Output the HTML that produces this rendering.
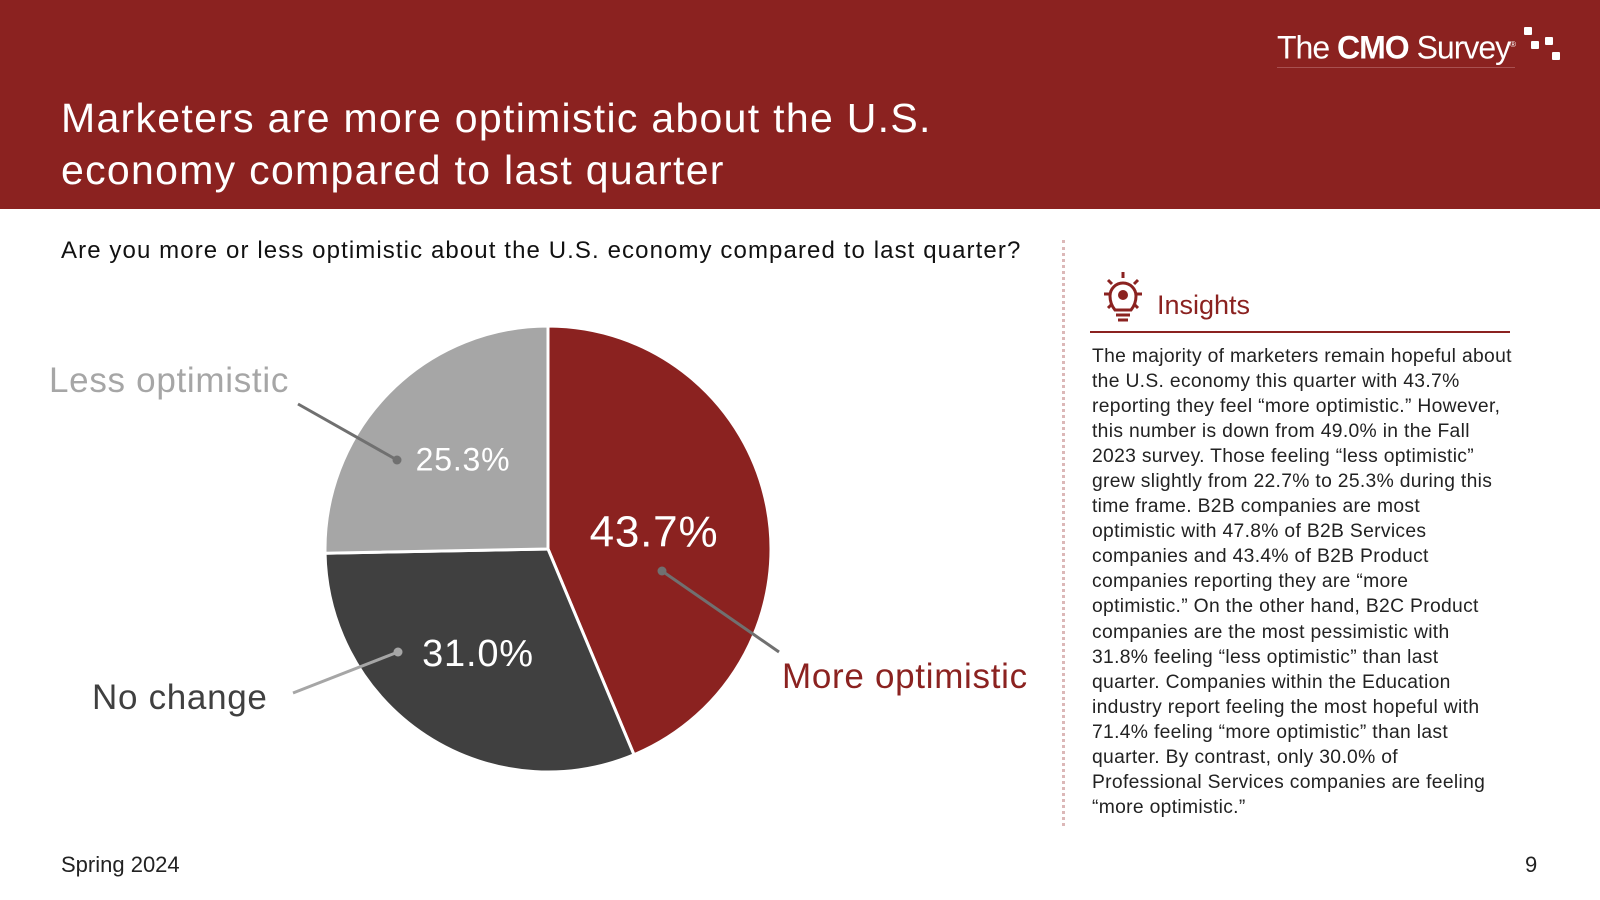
<!DOCTYPE html>
<html><head><meta charset="utf-8"><style>
body{margin:0;width:1600px;height:900px;position:relative;background:#fff;font-family:"Liberation Sans",sans-serif;overflow:hidden}
.a{position:absolute;white-space:nowrap}
</style></head><body>
<div class="a" style="left:0;top:0;width:1600px;height:209px;background:#8b2220"></div>
<div class="a" style="left:1277px;top:26px;color:#fff;font-size:32px;letter-spacing:-1px;border-bottom:1px solid #a85050;line-height:38px"><span style="font-weight:300">The </span><b>CMO</b><span> Survey</span><sup style="font-size:8px">®</sup></div>
<svg class="a" style="left:1524px;top:27px" width="40" height="36"><rect x="0" y="0" width="8" height="8" rx="1" fill="#fff"/><rect x="7" y="14" width="8" height="8" rx="1" fill="#fff"/><rect x="21" y="10" width="8" height="8" rx="1" fill="#fff"/><rect x="28" y="25" width="8" height="8" rx="1" fill="#fff"/></svg>
<div class="a" style="left:61px;top:92px;color:#fff;font-size:41px;letter-spacing:1.3px;line-height:52px;white-space:normal;width:1000px">Marketers are more optimistic about the U.S.<br>economy compared to last quarter</div>
<div class="a" style="left:61px;top:237px;font-size:24px;letter-spacing:1.1px;color:#111">Are you more or less optimistic about the U.S. economy compared to last quarter?</div>
<svg class="a" id="pie" style="left:0;top:0" width="1060" height="840"></svg>
<div class="a" style="left:1062px;top:240px;height:586px;border-left:3px dotted #dcb8b8"></div>
<svg class="a" style="left:1096px;top:270px" width="54" height="56" viewBox="0 0 54 56"><g stroke="#8b2220" stroke-width="3" fill="none"><line x1="27" y1="2" x2="27" y2="8"/><line x1="8" y1="24" x2="14" y2="24"/><line x1="40" y1="24" x2="46" y2="24"/><line x1="12" y1="10" x2="16" y2="14"/><line x1="42" y1="10" x2="38" y2="14"/><line x1="12" y1="38" x2="16" y2="34"/><line x1="42" y1="38" x2="38" y2="34"/><path d="M19 40 Q14 34 14 26 A13 13 0 0 1 40 26 Q40 34 35 40 Z"/><line x1="20" y1="45" x2="34" y2="45"/><line x1="22" y1="50" x2="32" y2="50"/></g><circle cx="27" cy="25" r="5" fill="#8b2220"/></svg>
<div class="a" style="left:1157px;top:290px;font-size:27px;color:#8b2220">Insights</div>
<div class="a" style="left:1090px;top:331px;width:420px;height:2px;background:#8b2220"></div>
<div class="a" style="left:1092px;top:344px;font-size:19.3px;letter-spacing:0.32px;line-height:25.05px;color:#222">The majority of marketers remain hopeful about<br>the U.S. economy this quarter with 43.7%<br>reporting they feel “more optimistic.” However,<br>this number is down from 49.0% in the Fall<br>2023 survey. Those feeling “less optimistic”<br>grew slightly from 22.7% to 25.3% during this<br>time frame. B2B companies are most<br>optimistic with 47.8% of B2B Services<br>companies and 43.4% of B2B Product<br>companies reporting they are “more<br>optimistic.” On the other hand, B2C Product<br>companies are the most pessimistic with<br>31.8% feeling “less optimistic” than last<br>quarter. Companies within the Education<br>industry report feeling the most hopeful with<br>71.4% feeling “more optimistic” than last<br>quarter. By contrast, only 30.0% of<br>Professional Services companies are feeling<br>“more optimistic.”</div>
<div class="a" style="left:61px;top:852px;font-size:22px;color:#222">Spring 2024</div>
<div class="a" style="left:1525px;top:852px;font-size:22px;color:#222">9</div>
<script>
const categories=["More optimistic","No change","Less optimistic"];
const values=[43.7,31.0,25.3];
const valueLabels=["43.7%","31.0%","25.3%"];
const colors=["#8b2220","#404040","#a6a6a6"];
const cx=548,cy=549,r=223;
const svg=document.getElementById('pie');
const NS="http://www.w3.org/2000/svg";
const total=values.reduce((a,b)=>a+b,0);
function pt(a,rr){return [cx+rr*Math.sin(a),cy-rr*Math.cos(a)];}
let start=0;
const outer=[{x:782,y:688,c:"#8b2220"},{x:92,y:709,c:"#404040"},{x:49,y:392,c:"#a6a6a6"}];
const pctFs=[44,38,32];
const pctPos=[[654,535],[478,656],[463,462]];
const leaders=[[662,571,779,652],[398,652,293,693],[397,460,298,404]];
const leaderCol=["#707070","#a6a6a6","#707070"];
values.forEach((v,i)=>{
  const ang=v/total*2*Math.PI, end=start+ang;
  const [x1,y1]=pt(start,r),[x2,y2]=pt(end,r);
  const p=document.createElementNS(NS,'path');
  p.setAttribute('d',`M${cx},${cy} L${x1},${y1} A${r},${r} 0 ${ang>Math.PI?1:0} 1 ${x2},${y2} Z`);
  p.setAttribute('fill',colors[i]);p.setAttribute('stroke','#fff');p.setAttribute('stroke-width','3');
  
  
  svg.appendChild(p);
  start=end;
});
values.forEach((v,i)=>{
  const L=leaders[i];
  const ln=document.createElementNS(NS,'line');
  ln.setAttribute('x1',L[0]);ln.setAttribute('y1',L[1]);ln.setAttribute('x2',L[2]);ln.setAttribute('y2',L[3]);
  ln.setAttribute('stroke',leaderCol[i]);ln.setAttribute('stroke-width','3');
  
  
  svg.appendChild(ln);
  const c=document.createElementNS(NS,'circle');
  c.setAttribute('cx',L[0]);c.setAttribute('cy',L[1]);c.setAttribute('r',4.5);c.setAttribute('fill',leaderCol[i]);
  
  
  svg.appendChild(c);
  const t=document.createElementNS(NS,'text');
  t.setAttribute('x',pctPos[i][0]);t.setAttribute('y',pctPos[i][1]);
  t.setAttribute('text-anchor','middle');t.setAttribute('dominant-baseline','middle');
  t.setAttribute('fill','#fff');t.setAttribute('font-size',pctFs[i]);t.setAttribute('letter-spacing','0.8');t.setAttribute('font-family','Liberation Sans, sans-serif');
  t.textContent=valueLabels[i];
  
  
  svg.appendChild(t);
  const o=document.createElementNS(NS,'text');
  o.setAttribute('x',outer[i].x);o.setAttribute('y',outer[i].y);
  o.setAttribute('fill',outer[i].c);o.setAttribute('font-size',35);o.setAttribute('letter-spacing','0.7');o.setAttribute('font-family','Liberation Sans, sans-serif');
  o.textContent=categories[i];
  
  
  svg.appendChild(o);
});
</script>
</body></html>
